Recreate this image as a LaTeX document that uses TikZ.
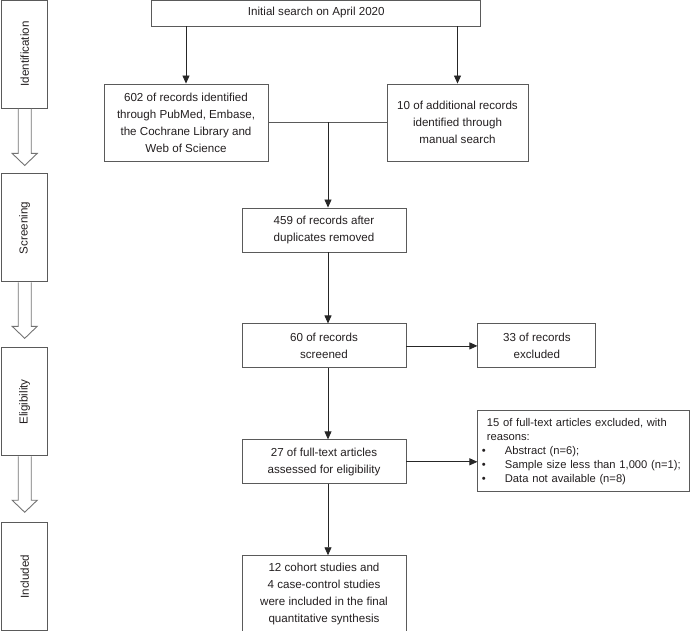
\documentclass[tikz,border=0pt]{standalone}
\usepackage{fontspec}
\setmainfont{Liberation Sans}
\usetikzlibrary{positioning,arrows.meta}
\definecolor{boxline}{HTML}{5A5A5A}
\definecolor{inkgray}{HTML}{231F20}
\tikzset{x=1pt,y=1pt,
  box/.style={draw=boxline,line width=0.9pt,text=inkgray,align=center,
    minimum width=164pt,minimum height=44pt,inner sep=2pt,
    font=\fontsize{11.6}{17}\selectfont},
  stage/.style={draw=boxline,line width=0.9pt,text=inkgray,
    minimum width=46pt,minimum height=108pt,inner sep=0pt},
  stagetext/.style={rotate=90,text=inkgray,font=\fontsize{11.6}{14}\selectfont},
  flow/.style={draw=black!85,line width=0.8pt,-{Triangle[length=8pt,width=7pt]}},
  blockarrow/.style={draw=black!55,line width=0.9pt,line join=miter}}
\hbadness=10000 \hfuzz=50pt

\begin{document}
\begin{tikzpicture}
           \useasboundingbox (0,0) rectangle (690,-631);
           % stages on the left
           \node[stage] (st_1) at (24.7,-54) {};
           \node[stage] (st_2) [below=65pt of st_1] {};
           \node[stage] (st_3) [below=65pt of st_2] {};
           \node[stage] (st_4) [below=66pt of st_3] {};
           \node[stagetext] at (st_1) {Identification};
           \node[stagetext] at (st_2) {Screening};
           \node[stagetext] at (st_3) {Eligibility};
           \node[stagetext] at (st_4) {Included};
           \draw[blockarrow] ([xshift=-6.5pt]st_1.south) -- ++(0,-45) -- ++(-6,0) -- ++(12.5,-12) -- ++(12.5,12) -- ++(-6,0) -- ++(0,45);
           \draw[blockarrow] ([xshift=-6.5pt]st_2.south) -- ++(0,-44) -- ++(-6,0) -- ++(12.5,-12) -- ++(12.5,12) -- ++(-6,0) -- ++(0,44);
           \draw[blockarrow] ([xshift=-6.5pt]st_3.south) -- ++(0,-44) -- ++(-6,0) -- ++(12.5,-12) -- ++(12.5,12) -- ++(-6,0) -- ++(0,44);
           % flow boxes
           \node[box,minimum width=329pt,minimum height=26pt] (init) at (316.3,-13) {Initial search on April 2020};
           \node[box,minimum height=77pt] (rec_602) at (186,-122.5) {602 of records identified\\through PubMed, Embase,\\the Cochrane Library and\\Web of Science};
           \node[box,minimum width=141pt,minimum height=77pt] (rec_10) at (457.5,-122.5) {10 of additional records\\identified through\\manual search};
           \node[box] (rec_459) at (324,-230) {459 of records after\\duplicates removed};
           \node[box] (rec_60) [below=71pt of rec_459] {60 of records\\screened};
           \node[box,minimum width=118pt] (exc_33) [right=71pt of rec_60] {33 of records\\excluded};
           \node[box] (rec_27) [below=71pt of rec_60] {27 of full-text articles\\assessed for eligibility};
           \node[box,minimum width=212pt,minimum height=81pt,text width=194pt,inner xsep=9pt,align=left,
                 font=\fontsize{11.2}{14}\selectfont] (exc_15) [right=71pt of rec_27,yshift=10.5pt]
                 {15 of full-text articles excluded, with\\reasons:\\
                  \mbox{\hspace*{-5pt}\makebox[23pt][l]{\textbullet}Abstract (n=6);}\\
                  \mbox{\hspace*{-5pt}\makebox[23pt][l]{\textbullet}Sample size less than 1,000 (n=1);}\\
                  \mbox{\hspace*{-5pt}\makebox[23pt][l]{\textbullet}Data not available (n=8)}};
           \node[box,minimum height=77pt] (incl) [below=71pt of rec_27] {12 cohort studies and\\4 case-control studies\\were included in the final\\quantitative synthesis};
           \coordinate (join) at (328,-122.5);
            \draw[flow] (rec_602.north |- init.south) -- (rec_602.north);
            \draw[flow] (rec_10.north |- init.south) -- (rec_10.north);
            \draw[boxline,line width=0.8pt] (rec_602.east) -- (rec_10.west);
            \draw[flow] (join) -- (join |- rec_459.north);
            \draw[flow] (rec_459.south -| join) -- (rec_60.north -| join);
            \draw[flow] (rec_60.east) -- (exc_33.west);
            \draw[flow] (rec_60.south -| join) -- (rec_27.north -| join);
            \draw[flow] (rec_27.east) -- (rec_27.east -| exc_15.west);
            \draw[flow] (rec_27.south -| join) -- (incl.north -| join);
        \end{tikzpicture}
\end{document}
